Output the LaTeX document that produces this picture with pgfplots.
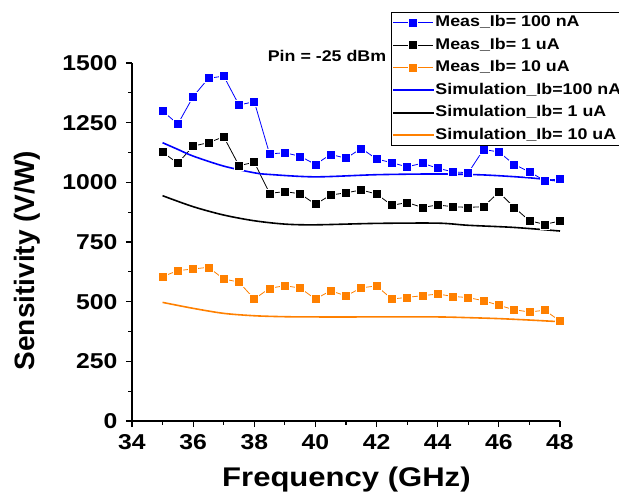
\documentclass[border=0pt]{standalone}
\usepackage{pgfplots}
\pgfplotsset{compat=1.18}
\usepackage{fontspec}
\setmainfont{Liberation Sans}[FakeStretch=1.15]
\newfontfamily\plainfont{Liberation Sans}
\definecolor{mblue}{RGB}{0,0,255}
\definecolor{morange}{RGB}{255,128,0}
\begin{document}
\begin{tikzpicture}
\begin{axis}[
  scale only axis, width=428pt, height=358pt,
  xmin=34, xmax=48, ymin=0, ymax=1500,
  axis x line*=bottom, axis y line*=left,
  axis line style={line width=1.2pt},
  xtick={34,36,...,48}, ytick={0,250,...,1500},
  minor x tick num=1, minor y tick num=1,
  tick align=outside, major tick length=6pt, minor tick length=3.5pt,
  every tick/.style={black, line width=1.1pt},
  /pgf/number format/assume math mode=true,
  /pgf/number format/1000 sep={},
  tick label style={font=\bfseries\fontsize{21.5}{21.5}\selectfont},
  xticklabel style={yshift=-4pt},
  yticklabel style={xshift=-5pt},
  xlabel={Frequency (GHz)}, ylabel={Sensitivity (V/W)},
  every axis x label/.style={at={(axis description cs:0.501,-0.163)}, anchor=center, font=\bfseries\fontsize{27}{27}\selectfont},
  every axis y label/.style={at={(axis description cs:-0.245,0.448)}, rotate=90, anchor=center, font=\plainfont\bfseries\fontsize{28}{28}\selectfont},
  clip=false,
  legend cell align=left,
  legend image code/.code={\draw[mark repeat=2,mark phase=2] plot coordinates {(0pt,0pt) (20pt,0pt) (40pt,0pt)};},
  legend style={at={(axis description cs:0.605,1.143)}, anchor=north west, draw=black, line width=0.8pt,
    font=\bfseries\fontsize{15.5}{15.5}\selectfont, inner xsep=1pt, inner ysep=2pt, row sep=5.5pt,
    nodes={inner sep=1.5pt, text height=11pt, text depth=3pt}},
]
\addplot[mblue, line width=0.8pt, mark=square*, mark size=4.5pt, mark options={fill=mblue, draw=white, line width=0.6pt}] coordinates {
(35,1299) (35.5,1244) (36,1359) (36.5,1436) (37,1445) (37.5,1324) (38,1338) (38.5,1119) (39,1124) (39.5,1109)
(40,1075) (40.5,1117) (41,1101) (41.5,1142) (42,1098) (42.5,1082) (43,1065) (43.5,1080) (44,1059) (44.5,1044)
(45,1040) (45.5,1138) (46,1127) (46.5,1075) (47,1044) (47.5,1007) (48,1015)};
\addlegendentry{Meas\_Ib= 100 nA}
\addplot[black, line width=0.8pt, mark=square*, mark size=4.5pt, mark options={fill=black, draw=white, line width=0.6pt}] coordinates {
(35,1126) (35.5,1080) (36,1152) (36.5,1166) (37,1191) (37.5,1070) (38,1084) (38.5,954) (39,961) (39.5,952)
(40,908) (40.5,947) (41,956) (41.5,968) (42,951) (42.5,904) (43,915) (43.5,895) (44,905) (44.5,898)
(45,895) (45.5,898) (46,959) (46.5,895) (47,839) (47.5,824) (48,838)};
\addlegendentry{Meas\_Ib= 1 uA}
\addplot[morange, line width=0.8pt, mark=square*, mark size=4.5pt, mark options={fill=morange, draw=white, line width=0.6pt}] coordinates {
(35,605) (35.5,630) (36,637) (36.5,644) (37,595) (37.5,582) (38,511) (38.5,556) (39,567) (39.5,557)
(40,511) (40.5,546) (41,524) (41.5,558) (42,566) (42.5,511) (43,518) (43.5,525) (44,532) (44.5,522)
(45,517) (45.5,504) (46,485) (46.5,466) (47,457) (47.5,464) (48,419)};
\addlegendentry{Meas\_Ib= 10 uA}
\addplot[mblue, line width=1.6pt, smooth] coordinates {
(35,1166) (35.5,1138) (36,1110) (37,1068) (38,1040) (38.5,1033) (40,1023) (42,1032) (44,1035) (45.5,1031) (47,1019) (48,1005)};
\addlegendentry{Simulation\_Ib=100 nA}
\addplot[black, line width=1.6pt, smooth] coordinates {
(35,944) (36,898) (37,863) (38,839) (39,825) (40,822) (42,828) (44,829) (45,820) (46.5,811) (48,796)};
\addlegendentry{Simulation\_Ib= 1 uA}
\addplot[morange, line width=1.6pt, smooth] coordinates {
(35,497) (36,472) (37,451) (38,441) (39,437) (40,436) (42,436) (44,436) (45,433) (46,429) (47,423) (48,416)};
\addlegendentry{Simulation\_Ib= 10 uA}
\node[font=\bfseries\fontsize{15.5}{15.5}\selectfont] at (axis cs:40.38,1529) {Pin = -25 dBm};
\end{axis}
\pgfresetboundingbox
\path (-132pt,-75pt) rectangle (487pt,421pt);
\end{tikzpicture}
\end{document}
